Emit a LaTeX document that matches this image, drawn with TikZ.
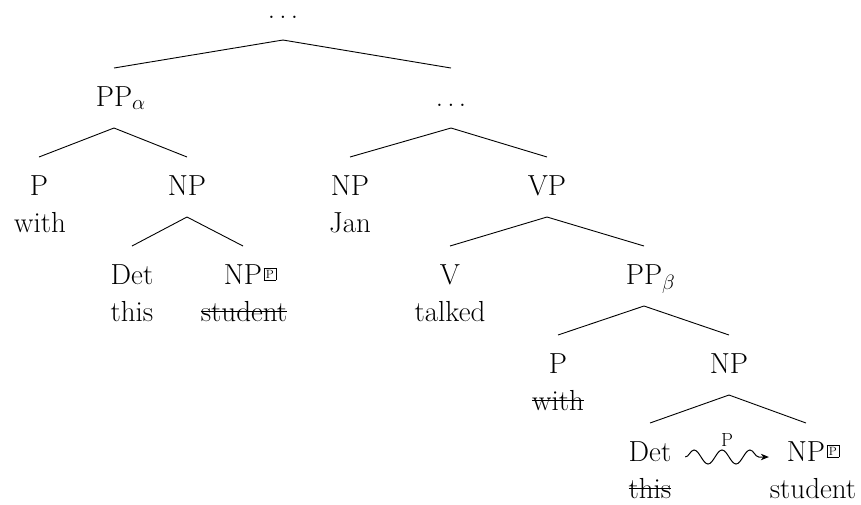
\documentclass[tikz,border=0pt]{standalone}
\usepackage{fontspec}
\usetikzlibrary{decorations.pathmorphing,arrows.meta}

% struck-through word
\newcommand\gone[1]{\setbox0=\hbox{#1}\rlap{\rule[0.33em]{\wd0}{0.045em}}\box0}
% small boxed P marker after a category label
\newcommand\pmark{\rlap{\hspace{1.5pt}\raisebox{6pt}{\fontsize{12}{12}\selectfont
  \setlength\fboxsep{1.8pt}\setlength\fboxrule{0.5pt}\fbox{P}}}}
% spaced ellipsis for elided material
\newcommand\elide{.\kern.15em.\kern.15em.}

\tikzset{
  lbl/.style={inner sep=0pt, outer xsep=0pt, outer ysep=20pt,
              text height=18pt, text depth=2pt, anchor=base},
  word/.style={inner sep=0pt, anchor=base},
  branch/.style={line width=0.9pt},
  wave/.style={line width=1pt, decorate,
               decoration={snake, amplitude=7pt, segment length=28pt, post length=8pt},
               -{Stealth[length=8pt,width=6.5pt]}}
}

\begin{document}
\begin{tikzpicture}[x=1pt, y=-1pt, font=\fontsize{29}{35}\selectfont]
\useasboundingbox (0,0) rectangle (861,504);

% labels
\node[lbl, text height=8pt] (top) at (283,18) {\elide};
\node[lbl] (ppa)   at (114,106) {PP\rlap{$_\alpha$}};
\node[lbl] (rest)  at (451,106) {\elide};

\node[lbl]  (p1)   at (39,195)    {P};
\node[word] (p1w)  at (40,232.5)  {with};
\node[lbl]  (np1)  at (187,195)   {NP};
\node[lbl]  (det1) at (132,284)   {Det};
\node[word] (det1w) at (132,321.5) {this};
\node[lbl]  (npb1) at (243,284)   {NP\pmark};
\node[word] (npb1w) at (244,321.5) {\gone{student}};

\node[lbl]  (npj)  at (350,195)   {NP};
\node[word] (npjw) at (350,232.5) {Jan};
\node[lbl]  (vp)   at (547,195)   {VP};
\node[lbl]  (v)    at (450,284)   {V};
\node[word] (vw)   at (450,321.5) {talked};
\node[lbl]  (ppb)  at (644,284)   {PP\rlap{$_\beta$}};
\node[lbl]  (p2)   at (558,373)   {P};
\node[word] (p2w)  at (558,410.5) {\gone{with}};
\node[lbl]  (np2)  at (729,373)   {NP};
\node[lbl]  (det2) at (650,461)   {Det};
\node[word] (det2w) at (650,498.5) {\gone{this}};
\node[lbl]  (npb2) at (806,461)   {NP\pmark};
\node[word] (npb2w) at (813,498.5) {student};

% branches
\draw[branch] (top.south) -- (ppa.north);
\draw[branch] (top.south) -- (rest.north);
\draw[branch] (ppa.south) -- (p1.north);
\draw[branch] (ppa.south) -- (np1.north);
\draw[branch] (np1.south) -- (det1.north);
\draw[branch] (np1.south) -- (npb1.north);
\draw[branch] (rest.south) -- (npj.north);
\draw[branch] (rest.south) -- (vp.north);
\draw[branch] (vp.south) -- (v.north);
\draw[branch] (vp.south) -- (ppb.north);
\draw[branch] (ppb.south) -- (p2.north);
\draw[branch] (ppb.south) -- (np2.north);
\draw[branch] (np2.south) -- (det2.north);
\draw[branch] (np2.south) -- (npb2.north);

% movement arrow
\draw[wave] ([xshift=14pt,yshift=-4pt]det2.east) -- ([xshift=-18pt,yshift=-4pt]npb2.west);
\node[word, font=\fontsize{19}{19}\selectfont] (wl) at (727,446) {P};
\end{tikzpicture}
\end{document}
